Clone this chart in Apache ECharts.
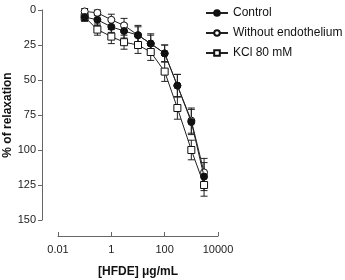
<!DOCTYPE html>
<html><head><meta charset="utf-8">
<script src="https://cdn.jsdelivr.net/npm/echarts@6/dist/echarts.min.js"></script>
<style>html,body{margin:0;padding:0;background:#fff}#c{width:345px;height:280px}</style>
</head><body><div id="c"></div>
<script>
const concentrations = [0.1, 0.3, 1, 3, 10, 30, 100, 300, 1000, 3000];
const seriesNames = ['Control', 'Without endothelium', 'KCl 80 mM'];
const controlMean = [5, 7, 12, 15, 18, 24, 31, 54, 80, 119];
const controlErr = [3, 4, 4, 5, 6, 6, 6, 8, 9, 10];
const withoutMean = [1, 2, 7, 11, 18, 24, 31, 54, 79, 116];
const withoutErr = [2, 2, 4, 5, 7, 7, 6, 8, 9, 10];
const kclMean = [5, 14, 19, 23, 25, 30, 44, 70, 100, 125];
const kclErr = [3, 4, 5, 5, 6, 6, 7, 8, 7, 8];
const yTicks = [0, 25, 50, 75, 100, 125, 150];

const chart = echarts.init(document.getElementById('c'));
const font = 'Liberation Sans, Arial, sans-serif';

function errSeries(mean, err, name) {
  const data = concentrations.map((x, i) => [x, mean[i] - err[i], mean[i] + err[i]]);
  return {
    type: 'custom', name: name + ' err', data: data, z: 1, silent: true,
    renderItem: function (params, api) {
      const lo = api.coord([api.value(0), api.value(1)]);
      const hi = api.coord([api.value(0), api.value(2)]);
      const w = 3.5;
      const st = { stroke: '#222', lineWidth: 1 };
      return { type: 'group', children: [
        { type: 'line', shape: { x1: lo[0], y1: lo[1], x2: hi[0], y2: hi[1] }, style: st },
        { type: 'line', shape: { x1: lo[0] - w, y1: lo[1], x2: lo[0] + w, y2: lo[1] }, style: st },
        { type: 'line', shape: { x1: hi[0] - w, y1: hi[1], x2: hi[0] + w, y2: hi[1] }, style: st }
      ]};
    }
  };
}
function lineSeries(mean, name, symbol, fill, z) {
  return {
    type: 'line', name: name, data: concentrations.map((x, i) => [x, mean[i]]),
    symbol: symbol, symbolSize: 7, showAllSymbol: true, z: z,
    lineStyle: { color: '#222', width: 1 },
    itemStyle: { color: fill, borderColor: '#111', borderWidth: 1 },
    emphasis: { disabled: true }
  };
}

chart.setOption({
  animation: false,
  legend: {
    data: seriesNames, orient: 'vertical', left: 200, top: 2, itemGap: 8,
    itemWidth: 22, itemHeight: 7,
    textStyle: { fontFamily: font, fontSize: 12, color: '#111' }
  },
  grid: { left: 58, right: 127, top: 10, bottom: 60, outerBoundsMode: 'none', containLabel: false },
  xAxis: {
    type: 'log', logBase: 100, min: 0.01, max: 10000, offset: 16, position: 'bottom',
    name: '[HFDE] \u03bcg/mL', nameLocation: 'middle', nameGap: 30,
    nameTextStyle: { fontFamily: font, fontSize: 12, fontWeight: 'bold', color: '#111' },
    axisLine: { onZero: false, lineStyle: { color: '#666', width: 1 } },
    axisTick: { inside: true, length: 4, lineStyle: { color: '#666' } },
    minorTick: { show: false }, splitLine: { show: false },
    axisLabel: { fontFamily: font, fontSize: 11, color: '#222', margin: 8,
      formatter: function (v) { return String(v); } }
  },
  yAxis: {
    type: 'value', inverse: true, min: 0, max: 150, interval: 25, offset: 16,
    name: '% of relaxation', nameLocation: 'middle', nameGap: 28,
    nameTextStyle: { fontFamily: font, fontSize: 12, fontWeight: 'bold', color: '#111' },
    axisLine: { show: true, onZero: false, lineStyle: { color: '#666', width: 1 } },
    axisTick: { show: true, length: 4, lineStyle: { color: '#666' } },
    splitLine: { show: false },
    axisLabel: { fontFamily: font, fontSize: 11, color: '#222', margin: 6,
      formatter: function (v) { return yTicks.indexOf(v) >= 0 ? String(v) : ''; } }
  },
  series: [
    errSeries(kclMean, kclErr, seriesNames[2]),
    errSeries(withoutMean, withoutErr, seriesNames[1]),
    errSeries(controlMean, controlErr, seriesNames[0]),
    lineSeries(kclMean, seriesNames[2], 'rect', '#fff', 3),
    lineSeries(withoutMean, seriesNames[1], 'circle', '#fff', 4),
    lineSeries(controlMean, seriesNames[0], 'circle', '#111', 5)
  ]
});
</script></body></html>
